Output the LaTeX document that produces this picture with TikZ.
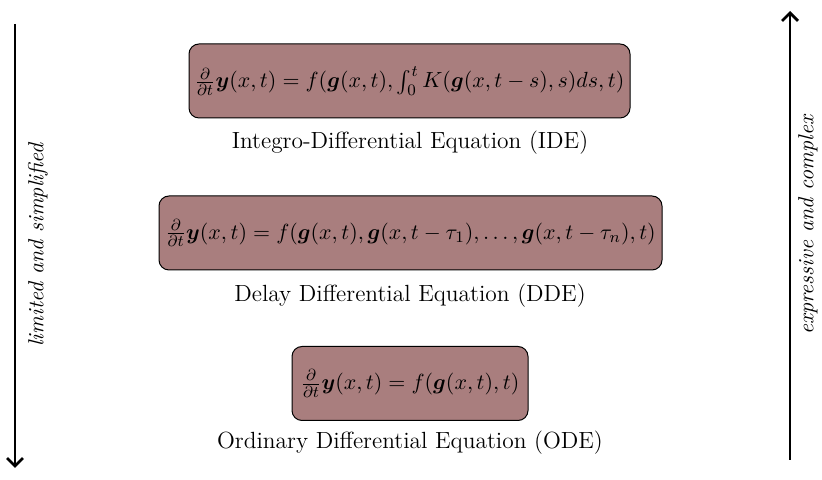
\documentclass[tikz,border=0pt]{standalone}
\usepackage{amsmath}
\usepackage{bm}
\usetikzlibrary{arrows.meta}
\definecolor{boxfill}{RGB}{169,126,126}
\tikzset{
  eqbox/.style={draw=black, line width=0.5pt, fill=boxfill, rounded corners=5pt, minimum height=37pt, inner sep=0pt, anchor=center, font=\fontsize{10.9}{13}\selectfont},
  eqlabel/.style={anchor=center, inner sep=0pt, font=\fontsize{11.7}{14}\selectfont},
  sidearrow/.style={line width=1.4pt, -{Straight Barb[length=4pt,width=8pt]}},
  sidelabel/.style={rotate=90, anchor=center, inner sep=0pt, font=\fontsize{10.9}{13}\selectfont\itshape}
}
\begin{document}
\begin{tikzpicture}[x=1pt,y=1pt]
\useasboundingbox (0,0) rectangle (411,240);
\node[eqbox, minimum width=220.5pt] (ide) at (204.75,199.5) {$\frac{\partial}{\partial t}\bm{y}(x,t) = f(\bm{g}(x,t), \int_0^t K(\bm{g}(x,t-s),s)ds, t)$};
\node[eqlabel] (idel) at (205,168.5) {Integro-Differential Equation (IDE)};
\node[eqbox, minimum width=251.5pt] (dde) at (205.25,123.5) {$\frac{\partial}{\partial t}\bm{y}(x,t) = f(\bm{g}(x,t), \bm{g}(x,t-\tau_1),\dots,\bm{g}(x,t-\tau_n), t)$};
\node[eqlabel] (ddel) at (205,92) {Delay Differential Equation (DDE)};
\node[eqbox, minimum width=118pt] (ode) at (205,48.25) {$\frac{\partial}{\partial t}\bm{y}(x,t) = f(\bm{g}(x,t), t)$};
\node[eqlabel] (odel) at (205,18.5) {Ordinary Differential Equation (ODE)};
\coordinate (ltop) at (7.5,228);
\coordinate (lbot) at (7.5,6);
\coordinate (rbot) at (395,10);
\coordinate (rtop) at (395,234.5);
\draw[sidearrow] (ltop) -- (lbot);
\draw[sidearrow] (rbot) -- (rtop);
\node[sidelabel] (llab) at (19,117.5) {limited and simplified};
\node[sidelabel] (rlab) at (404,127.5) {expressive and complex};
\end{tikzpicture}
\end{document}
